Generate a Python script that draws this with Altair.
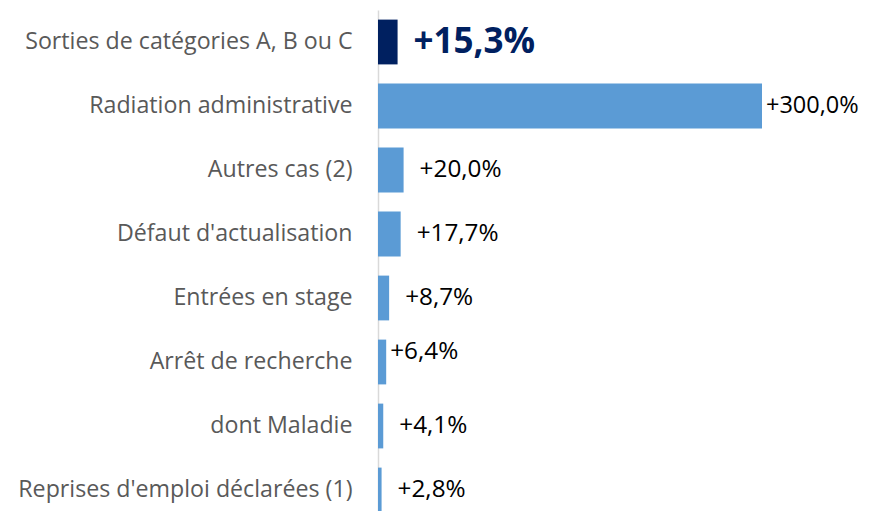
import altair as alt
import pandas as pd

categories = [
    "Sorties de catégories A, B ou C",
    "Radiation administrative",
    "Autres cas (2)",
    "Défaut d'actualisation",
    "Entrées en stage",
    "Arrêt de recherche",
    "dont Maladie",
    "Reprises d'emploi déclarées (1)",
]
values = [15.3, 300.0, 20.0, 17.7, 8.7, 6.4, 4.1, 2.8]
labels = ["+15,3%", "+300,0%", "+20,0%", "+17,7%", "+8,7%", "+6,4%", "+4,1%", "+2,8%"]
groups = ["total", "detail", "detail", "detail", "detail", "detail", "detail", "detail"]

df = pd.DataFrame({"cat": categories, "val": values, "lab": labels, "grp": groups})

FONT = "Open Sans"
W = 483
H = 512

y = alt.Y(
    "cat:N",
    sort=categories,
    title=None,
    scale=alt.Scale(paddingInner=0.3, paddingOuter=0.15),
    axis=alt.Axis(
        ticks=False,
        grid=False,
        labelPadding=26,
        labelFont=FONT,
        labelFontSize=23.2,
        labelColor="#595959",
        labelLimit=400,
        domainColor="#d9d9d9",
        domainWidth=1.5,
    ),
)
x = alt.X(
    "val:Q",
    title=None,
    scale=alt.Scale(domain=[0, W / 1.28], nice=False),
    axis=None,
)

bars = alt.Chart(df).mark_bar().encode(
    x=x,
    y=y,
    color=alt.Color(
        "grp:N",
        scale=alt.Scale(domain=["total", "detail"], range=["#002060", "#5b9bd5"]),
        legend=None,
    ),
)

base_text = alt.Chart(df).encode(x=x, y=y, text="lab:N")

t_total = base_text.transform_filter(alt.datum.grp == "total").mark_text(
    align="left", baseline="middle", dx=16, font=FONT, fontSize=35, fontWeight="bold", color="#002060"
)
t_big = base_text.transform_filter(alt.datum.val > 100).mark_text(
    align="left", baseline="middle", dx=4, font=FONT, fontSize=23.5, color="#000000"
)
t_raised = base_text.transform_filter(alt.datum.cat == "Arrêt de recherche").mark_text(
    align="left", baseline="middle", dx=4, dy=-10, font=FONT, fontSize=24.3, color="#000000"
)
t_rest = base_text.transform_filter(
    (alt.datum.grp == "detail") & (alt.datum.val < 100) & (alt.datum.cat != "Arrêt de recherche")
).mark_text(align="left", baseline="middle", dx=16, font=FONT, fontSize=24.3, color="#000000")

chart = (
    alt.layer(bars, t_total, t_big, t_raised, t_rest)
    .properties(
        width=W,
        height=H,
        background="white",
        autosize=alt.AutoSizeParams(type="none"),
        padding={"left": 370, "top": 2, "right": 0, "bottom": 0},
    )
    .configure_view(strokeWidth=0)
)

chart.save("out.html", embed_options={"renderer": "svg", "actions": False})
